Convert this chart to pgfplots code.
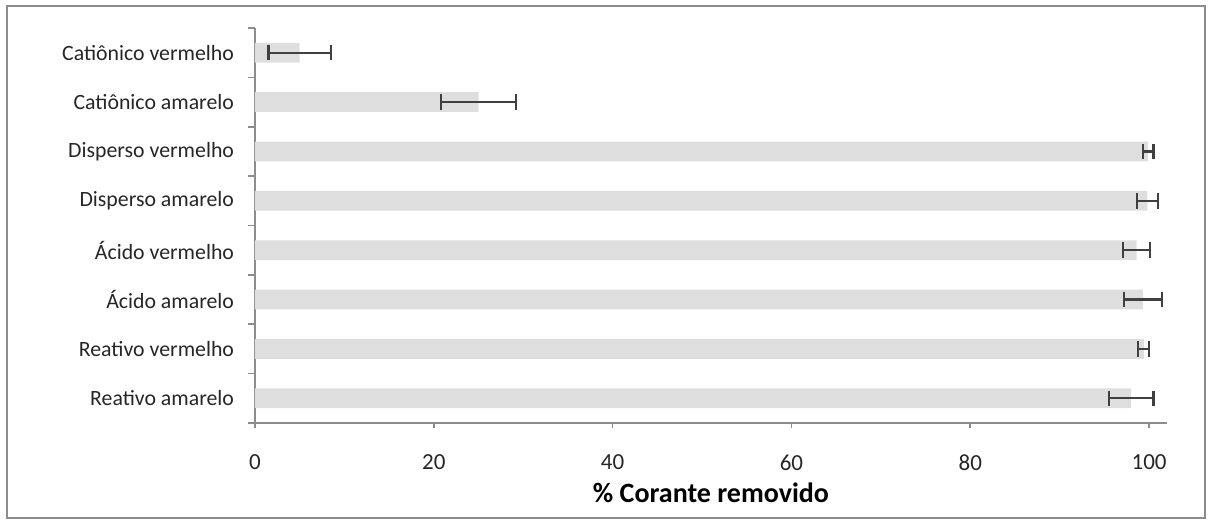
\documentclass[border=0pt]{standalone}
\usepackage{pgfplots}
\pgfplotsset{compat=1.18}
\usepackage{fontspec}
\setmainfont{Carlito}
\definecolor{barfill}{HTML}{DEDEDE}
\definecolor{errgray}{HTML}{404040}
\definecolor{axgray}{HTML}{8C8C8C}

\begin{document}
\begin{tikzpicture}
  % fixed page: 1210 x 523 px at 0.5pt per px, axis corner at (255,423) px
  \useasboundingbox (-127.5pt,-50pt) rectangle (477.5pt,211.5pt);
  \draw[axgray, line width=0.8pt] (-124pt,-47.5pt) rectangle (475pt,208.5pt);
  \begin{axis}[
    at={(0,0)}, anchor=south west,
    width=456pt, height=197.5pt, scale only axis,
    xbar, bar width=0.4,
    xmin=0, xmax=102,
    ymin=-0.5, ymax=7.5,
    axis x line*=bottom, axis y line*=left,
    axis line style={axgray, line width=0.8pt, -},
    x axis line style={shorten <=-3.5pt},
    xtick={0,20,40,60,80,100},
    ytick={0,...,7},
    yticklabels={Reativo amarelo, Reativo vermelho, Ácido amarelo, Ácido vermelho,
      Disperso amarelo, Disperso vermelho, Catiônico amarelo, Catiônico vermelho},
    minor ytick={-0.5,0.5,...,7.5},
    major y tick style={draw=none},
    minor y tick style={axgray, line width=0.8pt},
    x tick style={axgray, line width=0.8pt},
    tick align=outside,
    major tick length=2.5pt, minor tick length=3.5pt,
    yticklabel style={font=\fontsize{10.9}{12}\selectfont, text=black!85, xshift=-4.5pt},
    xticklabel style={font=\fontsize{11.5}{13}\selectfont, text=black!85, yshift=-10pt},
    /pgf/number format/assume math mode=true,
    xlabel={\bfseries\% Corante removido},
    xlabel style={font=\fontsize{14}{16}\selectfont, yshift=1pt},
    clip=false,
  ]
    \addplot[fill=barfill, draw=none,
      error bars/.cd, x dir=both, x explicit, error mark=|,
      error bar style={errgray, line width=1.1pt},
      error mark options={errgray, line width=1.1pt, mark size=3.9pt}]
      coordinates {
        (98.0,0) +- (2.5,0)
        (99.4,1) +- (0.6,0)
        (99.3,2) +- (2.1,0)
        (98.6,3) +- (1.5,0)
        (99.8,4) +- (1.2,0)
        (99.9,5) +- (0.6,0)
        (25.0,6) +- (4.2,0)
        (5.0,7)  +- (3.5,0)
      };
  \end{axis}
\end{tikzpicture}
\end{document}
